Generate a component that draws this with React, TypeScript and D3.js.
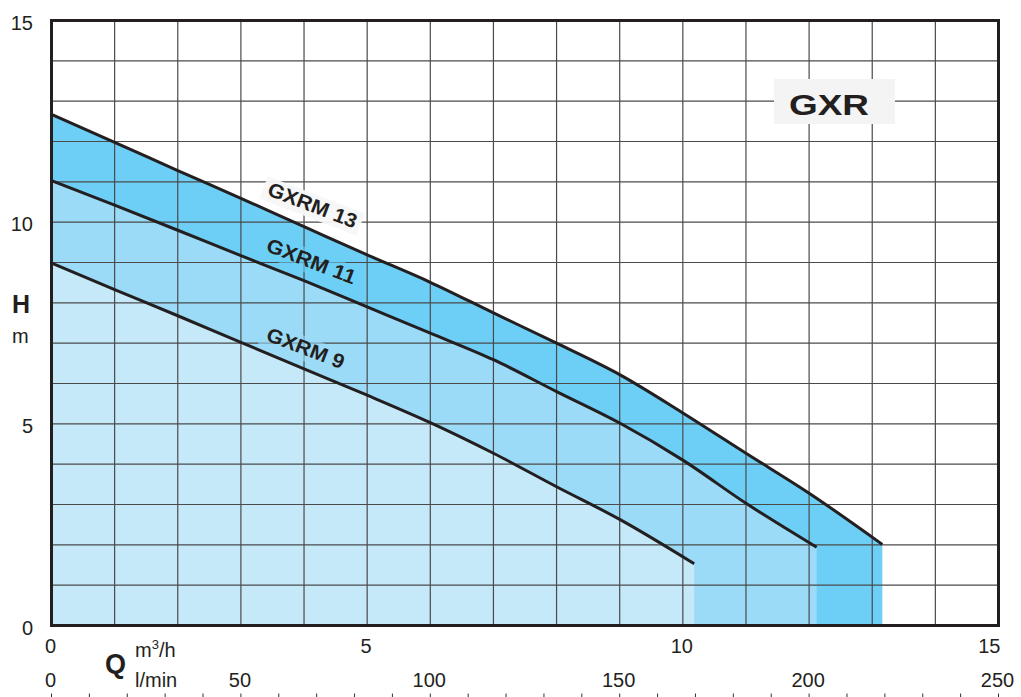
import { useRef, useEffect } from 'react';
import { select, scaleLinear, line, area, curveMonotoneX, range } from 'd3';

// Pump curves: flow in m3/h, head in m
const flow13 = [0, 1, 2, 3, 4, 5, 6, 7, 8, 9, 10, 11, 12, 13.16];
const head13 = [12.67, 11.98, 11.28, 10.59, 9.89, 9.19, 8.51, 7.75, 7.0, 6.22, 5.27, 4.27, 3.28, 2.01];
const flow11 = [0, 1, 2, 3, 4, 5, 6, 7, 8, 9, 10, 11, 12.12];
const head11 = [11.03, 10.42, 9.8, 9.17, 8.55, 7.9, 7.25, 6.59, 5.8, 5.02, 4.1, 3.03, 1.94];
const flow9 = [0, 1, 2, 3, 4, 5, 6, 7, 8, 9, 10.18];
const head9 = [8.99, 8.33, 7.68, 7.02, 6.36, 5.71, 5.03, 4.27, 3.44, 2.63, 1.53];

const seriesNames = ['GXRM 13', 'GXRM 11', 'GXRM 9'];
const yTicks = [0, 5, 10, 15];
const flowTicks = [0, 5, 10, 15];
const litreTicks = [0, 50, 100, 150, 200, 250];

function App() {
    const graphRef = useRef<SVGSVGElement | null>(null);

    const width = 1021;
    const height = 697;
    const font = '"Liberation Sans", Arial, Helvetica, sans-serif';
    const ink = '#231f20';

    // Scales
    const x = scaleLinear().domain([0, 15]).range([51.5, 998.5]);
    const xl = scaleLinear().domain([0, 250]).range([51.5, 998.5]);
    const y = scaleLinear().domain([0, 15]).range([625.5, 20.5]);

    useEffect(() => {
        const svg = select(graphRef.current);
        svg.selectAll('*').remove();

        const series = [
            { name: seriesNames[0], flow: flow13, head: head13, fill: '#6dcff6', box: '#f7f7f7', lab: [3.4, 10.68], len: 94 },
            { name: seriesNames[1], flow: flow11, head: head11, fill: '#9cdbf7', box: '#6dcff6', lab: [3.38, 9.29], len: 94 },
            { name: seriesNames[2], flow: flow9, head: head9, fill: '#c6e9f9', box: '#9cdbf7', lab: [3.38, 7.08], len: 82 },
        ];

        // Filled bands, largest first
        const band = area<[number, number]>()
            .x((d) => x(d[0]))
            .y0(y(0))
            .y1((d) => y(d[1]))
            .curve(curveMonotoneX);
        series.forEach((s) => {
            const pts = s.flow.map((q, i) => [q, s.head[i]] as [number, number]);
            svg.append('path').attr('d', band(pts)).attr('fill', s.fill);
        });

        // Grid
        const grid = svg.append('g').attr('stroke', '#4a4a4a').attr('stroke-width', 1.2);
        grid.selectAll('line.v')
            .data(range(1, 15))
            .join('line')
            .attr('x1', (d) => x(d))
            .attr('x2', (d) => x(d))
            .attr('y1', y(15))
            .attr('y2', y(0));
        grid.selectAll('line.h')
            .data(range(1, 15))
            .join('line')
            .attr('x1', x(0))
            .attr('x2', x(15))
            .attr('y1', (d) => y(d))
            .attr('y2', (d) => y(d));

        // Curves
        const curve = line<[number, number]>()
            .x((d) => x(d[0]))
            .y((d) => y(d[1]))
            .curve(curveMonotoneX);
        series.forEach((s) => {
            const pts = s.flow.map((q, i) => [q, s.head[i]] as [number, number]);
            svg.append('path')
                .attr('d', curve(pts))
                .attr('fill', 'none')
                .attr('stroke', ink)
                .attr('stroke-width', 3);
        });

        // Curve labels
        series.forEach((s) => {
            const g = svg.append('g')
                .attr('transform', `translate(${x(s.lab[0])},${y(s.lab[1])}) rotate(21)`);
            g.append('rect')
                .attr('x', -5)
                .attr('y', -18)
                .attr('width', s.len + 10)
                .attr('height', 24)
                .attr('fill', s.box)
                .attr('opacity', s.name === 'GXRM 13' ? 0.95 : 0.6);
            g.append('text')
                .text(s.name)
                .attr('textLength', s.len)
                .attr('lengthAdjust', 'spacingAndGlyphs')
                .attr('font-family', font)
                .attr('font-weight', 'bold')
                .attr('font-size', 20)
                .attr('fill', ink);
        });

        // Frame
        svg.append('rect')
            .attr('x', x(0))
            .attr('y', y(15))
            .attr('width', x(15) - x(0))
            .attr('height', y(0) - y(15))
            .attr('fill', 'none')
            .attr('stroke', ink)
            .attr('stroke-width', 3);

        // Title box
        svg.append('rect')
            .attr('x', 774)
            .attr('y', 79)
            .attr('width', 121)
            .attr('height', 45)
            .attr('fill', '#f4f4f4');
        svg.append('text')
            .text('GXR')
            .attr('x', 789)
            .attr('y', 115)
            .attr('textLength', 80)
            .attr('lengthAdjust', 'spacingAndGlyphs')
            .attr('font-family', font)
            .attr('font-weight', 'bold')
            .attr('font-size', 29)
            .attr('fill', ink);

        // Y axis labels
        svg.append('g')
            .selectAll('text')
            .data(yTicks)
            .join('text')
            .text((d) => `${d}`)
            .attr('x', 33)
            .attr('y', (d) => y(d) + 9)
            .attr('text-anchor', 'end')
            .attr('font-family', font)
            .attr('font-size', 20)
            .attr('fill', ink);
        svg.append('text').text('H')
            .attr('x', 12).attr('y', 313)
            .attr('font-family', font).attr('font-weight', 'bold').attr('font-size', 25).attr('fill', ink);
        svg.append('text').text('m')
            .attr('x', 12).attr('y', 343)
            .attr('font-family', font).attr('font-size', 20).attr('fill', ink);

        // X axis labels, m3/h
        svg.append('g')
            .selectAll('text')
            .data(flowTicks)
            .join('text')
            .text((d) => `${d}`)
            .attr('x', (d) => (d === 15 ? x(d) + 2 : x(d) - 1))
            .attr('y', 653)
            .attr('text-anchor', (d) => (d === 15 ? 'end' : 'middle'))
            .attr('font-family', font)
            .attr('font-size', 20)
            .attr('fill', ink);

        // X axis labels, l/min
        svg.append('g')
            .selectAll('text')
            .data(litreTicks)
            .join('text')
            .text((d) => `${d}`)
            .attr('x', (d) => xl(d) - 1)
            .attr('y', 687)
            .attr('text-anchor', 'middle')
            .attr('font-family', font)
            .attr('font-size', 20)
            .attr('fill', ink);
        svg.append('g')
            .attr('stroke', '#333')
            .attr('stroke-width', 1)
            .selectAll('line')
            .data(range(0, 251, 10))
            .join('line')
            .attr('x1', (d) => xl(d))
            .attr('x2', (d) => xl(d))
            .attr('y1', 693.5)
            .attr('y2', 697);

        // Unit labels
        svg.append('text').text('Q')
            .attr('x', 105).attr('y', 673)
            .attr('font-family', font).attr('font-weight', 'bold').attr('font-size', 27).attr('fill', ink);
        const unit = svg.append('text')
            .attr('x', 135).attr('y', 657)
            .attr('font-family', font).attr('font-size', 20).attr('fill', ink);
        unit.append('tspan').text('m');
        unit.append('tspan').text('3').attr('font-size', 13).attr('dy', -8);
        unit.append('tspan').text('/h').attr('dy', 8);
        svg.append('text').text('l/min')
            .attr('x', 135).attr('y', 687)
            .attr('font-family', font).attr('font-size', 20).attr('fill', ink);
    }, []);

    return (
        <div style={{ position: 'absolute', left: 0, top: 0 }}>
            <svg ref={graphRef} width={width} height={height} style={{ display: 'block', background: '#fff' }}></svg>
        </div>
    );
}

export default App;
